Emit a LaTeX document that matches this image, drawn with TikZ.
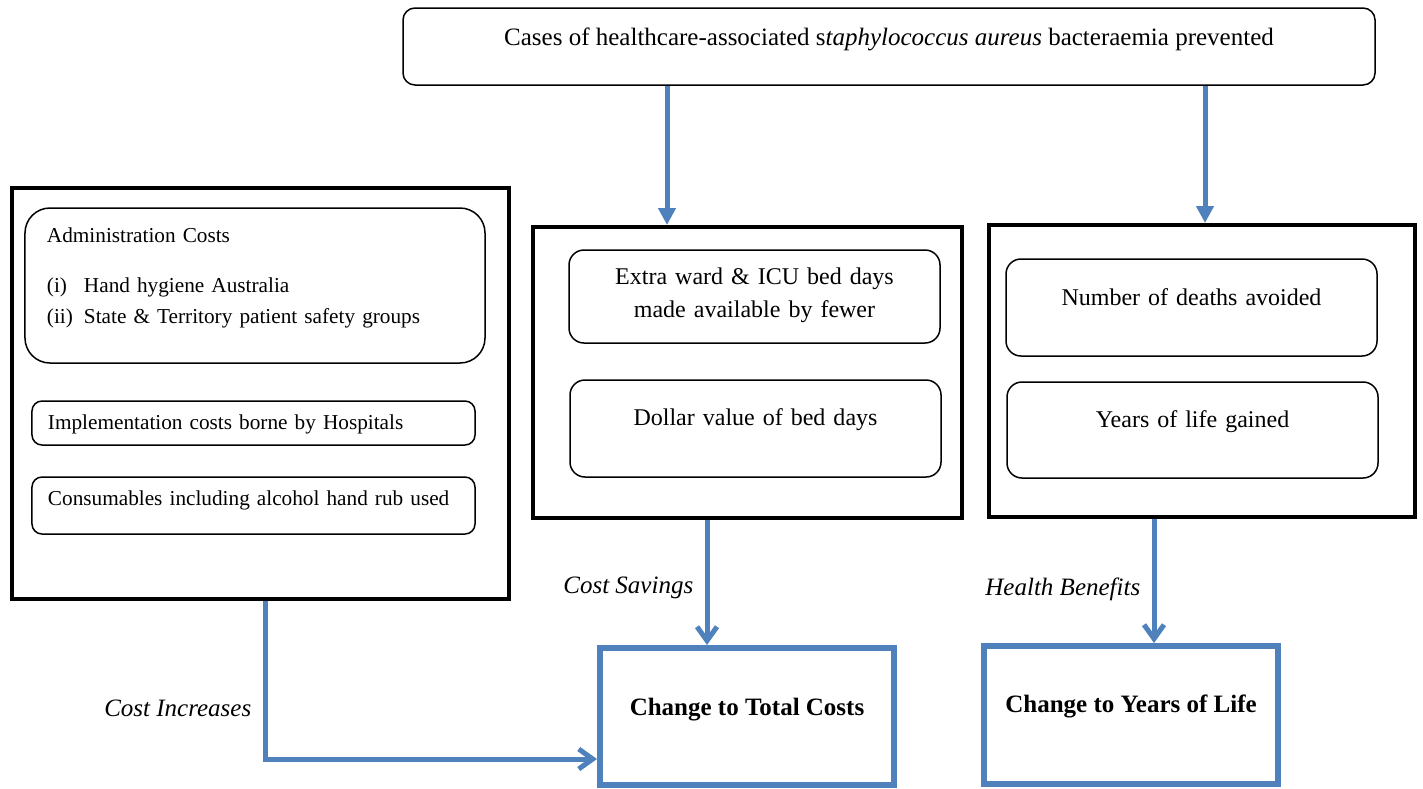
\documentclass[tikz,border=0pt]{standalone}
\usepackage{fontspec}
\setmainfont{Liberation Serif}
\usetikzlibrary{arrows.meta,positioning}
\definecolor{flowblue}{RGB}{79,129,189}
\begin{document}
\begin{tikzpicture}[x=0.4pt,y=-0.4pt,every node/.style={font=\fontsize{10}{12.4}\selectfont},
  outer/.style={draw,line width=1.6pt,inner sep=0pt},
  item/.style={draw,line width=0.6pt,rounded corners=6pt,inner xsep=0pt,inner ysep=0pt,text width=148.4pt,align=center,font=\fontsize{9.6}{12.4}\selectfont},
  leftitem/.style={draw,line width=0.6pt,rounded corners=4pt,inner xsep=6.4pt,inner ysep=0pt,text width=164.4pt,align=left,font=\fontsize{8.5}{12.4}\selectfont},
  result/.style={draw=flowblue,line width=2.4pt,inner sep=0pt,minimum width=117.6pt,font=\fontsize{10}{12}\selectfont\bfseries},
  flow/.style={draw=flowblue,line width=2pt},
  flowtext/.style={font=\fontsize{10}{12}\selectfont\itshape,inner xsep=4.5pt}]
\useasboundingbox (0,0) rectangle (1423,788);
\node[draw,line width=0.6pt,rounded corners=4.8pt,minimum width=388.8pt,inner sep=0pt,text height=14.8pt,text depth=16pt] (top) at (889,46.5) {Cases of healthcare-associated s\textit{taphylococcus aureus} bacteraemia prevented};
\node[outer,minimum width=198.8pt,minimum height=164.4pt] (costs) at (260.5,393.5) {};
\node[leftitem,rounded corners=10pt,inner xsep=8.8pt,text width=166.4pt,text height=13.6pt,text depth=48.4pt] (admin) at (255,285.5) {Administration Costs\\[7.6pt]\makebox[14.8pt][l]{(i)}Hand hygiene Australia\\\makebox[14.8pt][l]{(ii)}State \& Territory patient safety groups};
\node[leftitem,text height=11.2pt,text depth=6.4pt] (impl) at (253.5,423) {Implementation costs borne by Hospitals};
\node[leftitem,text height=11.2pt,text depth=11.6pt] (cons) at (253.5,505.5) {Consumables including alcohol hand rub used};
\node[outer,minimum width=171.6pt,minimum height=116.4pt] (savings) at (747.5,372.5) {};
\node[item,text height=13.6pt,text depth=23.6pt] (beds) at (754.5,296.5) {Extra ward \& ICU bed days\\[0.8pt]made available by fewer};
\node[item,text height=18pt,text depth=20.8pt] (dollar) at (755.5,428.5) {Dollar value of bed days};
\node[outer,minimum width=170.4pt,minimum height=116.8pt] (benefits) at (1202,371) {};
\node[item,text height=18.4pt,text depth=20.4pt] (deaths) at (1191.5,307.5) {Number of deaths avoided};
\node[item,text height=18pt,text depth=20.4pt] (years) at (1192.5,430) {Years of life gained};
\node[result,text height=26.8pt,text depth=28pt] (total) at (747,716.5) {Change to Total Costs};
\node[result,text height=26.4pt,text depth=28.8pt] (life) at (1131,715) {Change to Years of Life};
\draw[flow,-{Triangle[length=6.8pt,width=6.8pt]}] ([xshift=-88.8pt]top.south) -- ([xshift=-88.8pt]top.south |- savings.north);
\draw[flow,-{Triangle[length=6.8pt,width=6.8pt]}] ([xshift=126.4pt]top.south) -- ([xshift=126.4pt]top.south |- benefits.north);
\draw[flow,-{Straight Barb[length=5.6pt,width=8pt]}] ([xshift=-16.2pt]savings.south) -- node[flowtext,pos=.54,left]{Cost Savings} ([xshift=-16.2pt]savings.south |- total.north);
\draw[flow,-{Straight Barb[length=5.6pt,width=8pt]}] ([xshift=-19.2pt]benefits.south) -- node[flowtext,pos=.57,left]{Health Benefits} ([xshift=-19.2pt]benefits.south |- life.north);
\draw[flow,-{Straight Barb[length=5.6pt,width=8pt]}] ([xshift=1.8pt]costs.south) |- node[flowtext,pos=.34,left]{Cost Increases} ([yshift=-17pt]total.west);
\end{tikzpicture}
\end{document}
